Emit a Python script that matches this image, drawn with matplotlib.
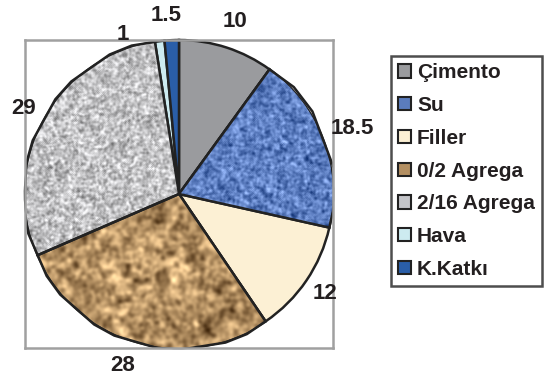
import numpy as np
import matplotlib.pyplot as plt
from matplotlib.patches import Patch

plt.rcParams['font.family'] = ['Liberation Sans', 'DejaVu Sans']
plt.rcParams['font.weight'] = 'bold'

# mix proportions (by volume)
labels = ['Çimento', 'Su', 'Filler', '0/2 Agrega', '2/16 Agrega', 'Hava', 'K.Katkı']
values = [10, 18.5, 12, 28, 29, 1, 1.5]
value_text = ['10', '18.5', '12', '28', '29', '1', '1.5']

colors = ['#9a9b9e', '#5b7cbd', '#fcf0d4', '#b38f62', '#c4c5c9', '#cdebf0', '#2a5ea8']

W, H = 545, 376
fig = plt.figure(figsize=(W / 100, H / 100), dpi=100)

# pie axes, in pixels: centre (179,194), radius 154
cx, cy, r = 179, 194, 154
ax = fig.add_axes([(cx - r) / W, (H - cy - r) / H, 2 * r / W, 2 * r / H])
wedges, _ = ax.pie(values, colors=colors, startangle=90, counterclock=False,
                   radius=1, wedgeprops=dict(edgecolor='#222222', linewidth=1.8))
ax.set_frame_on(True)
ax.set_xticks([])
ax.set_yticks([])
for s in ax.spines.values():
    s.set_visible(True)
    s.set_color('#a0a0a0')
    s.set_linewidth(1.8)


def smooth(a, n):
    # crude box blur, n passes
    for _ in range(n):
        a = (a + np.roll(a, 1, 0) + np.roll(a, -1, 0) + np.roll(a, 1, 1) + np.roll(a, -1, 1)) / 5
    return a


def norm(a):
    return (a - a.mean()) / a.std()


rng = np.random.default_rng(7)
N = 320

# woven blue texture for Su
su = norm(smooth(rng.random((N, N)), 2)) * 0.6 + norm(smooth(rng.random((N, N)), 6)) * 0.4
base = np.array([0.37, 0.50, 0.76])
su_img = np.clip(base[None, None, :] + 0.12 * su[..., None], 0, 1)

# crumpled brown paper for 0/2 Agrega
ag = norm(smooth(rng.random((N, N)), 30)) * 0.5 + norm(smooth(rng.random((N, N)), 8)) * 0.5
ag = norm(ag)
base = np.array([0.71, 0.57, 0.39])
ag_img = np.clip(base[None, None, :] + np.array([0.12, 0.11, 0.09]) * ag[..., None], 0, 1)

# speckled granite for 2/16 Agrega
gr = norm(smooth(rng.random((N, N)), 2))
gr_img = np.clip(0.76 + 0.1 * gr, 0, 1)
gr_img = np.stack([gr_img, gr_img, gr_img * 1.01], axis=-1).clip(0, 1)

for idx, img in [(1, su_img), (3, ag_img), (4, gr_img)]:
    im = ax.imshow(img, extent=[-1, 1, -1, 1], zorder=wedges[idx].get_zorder() + 0.1,
                   interpolation='bilinear')
    im.set_clip_path(wedges[idx])
    # redraw outline on top
    w = wedges[idx]
    ax.add_patch(plt.Polygon(w.get_path().vertices, closed=True, fill=False,
                             transform=w.get_transform(), edgecolor='#222222',
                             linewidth=1.8, zorder=im.get_zorder() + 0.1))

ax.set_xlim(-1, 1)
ax.set_ylim(-1, 1)
ax.set_aspect('equal')

# value labels outside the wedges
label_r = [1.18, 1.2, 1.15, 1.17, 1.15, 1.1, 1.16]
label_da = [0, 0, 0, -2, 0, 12, 1.5]
for w, t, lr, da in zip(wedges, value_text, label_r, label_da):
    ang = np.deg2rad((w.theta1 + w.theta2) / 2 + da)
    ax.text(lr * np.cos(ang), lr * np.sin(ang), t, ha='center', va='center',
            fontsize=16, fontweight='bold', color='#231f20', clip_on=False)

handles = [Patch(facecolor=c, edgecolor='#222222', linewidth=1.5) for c in colors]
leg = fig.legend(handles, labels, loc='upper left',
                 bbox_to_anchor=(391 / W, 1 - 56 / H), frameon=True, fancybox=False,
                 edgecolor='#222222', prop=dict(size=15, weight='bold'),
                 handlelength=0.6, handleheight=0.6, handletextpad=0.3,
                 labelspacing=0.66, borderpad=0.35, borderaxespad=0)
leg.get_frame().set_linewidth(1.8)
for t in leg.get_texts():
    t.set_color('#231f20')

fig.savefig('out.png', dpi=100)
